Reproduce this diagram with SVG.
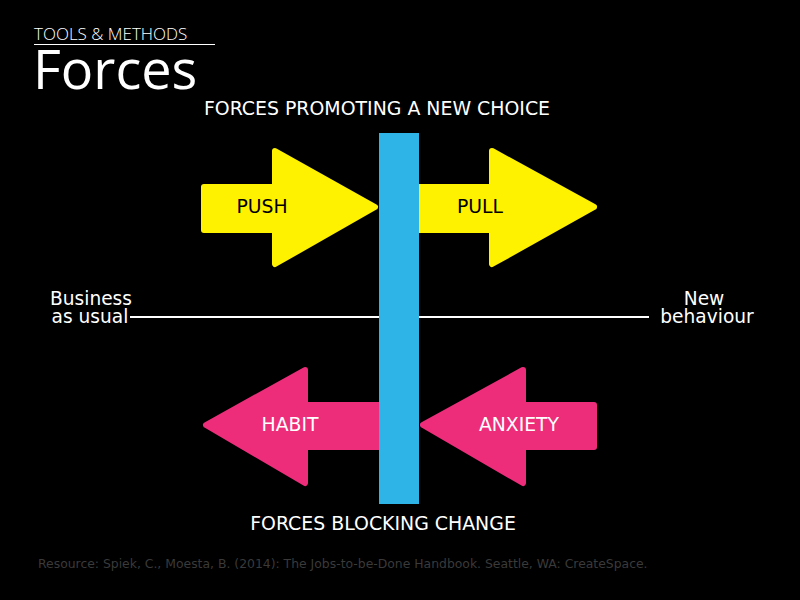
<svg xmlns="http://www.w3.org/2000/svg" width="800" height="600" viewBox="0 0 800 600">
<style>
.t{font-family:"DejaVu Sans","Liberation Sans",sans-serif;}
.w{fill:#ffffff;}
.lbl{font-size:18.8px;text-anchor:middle;}
.side{font-size:18.6px;text-anchor:middle;}
.yel{fill:#FFF200;stroke:#FFF200;stroke-width:6;stroke-linejoin:round;}
.pink{fill:#EE2D7A;stroke:#EE2D7A;stroke-width:6;stroke-linejoin:round;}
</style>
<rect width="800" height="600" fill="#000"/>
<g id="header">
<text x="34" y="40" font-family="'Open Sans','DejaVu Sans',sans-serif" font-weight="300" font-size="17" fill="#fff">TOOLS &amp; METHODS</text>
<line x1="34" y1="44.5" x2="215" y2="44.5" stroke="#fff" stroke-width="1"/>
<text x="33" y="89" font-family="'Open Sans','DejaVu Sans',sans-serif" font-size="54" fill="#fff">Forces</text>
</g>
<g id="connectors">
<line x1="130" y1="317" x2="649" y2="317" stroke="#fff" stroke-width="2"/>
</g>
<g id="push">
<polygon class="yel" points="204,187 275,187 275,151 375,207 275,264 275,230 204,230"/>
<text class="t lbl" x="262" y="213" fill="#000">PUSH</text>
</g>
<g id="pull">
<polygon class="yel" points="419,187 492,187 492,151 594,207 492,264 492,230 419,230"/>
<text class="t lbl" x="480" y="213" fill="#000">PULL</text>
</g>
<g id="habit">
<polygon class="pink" points="379,405 305,405 305,370 206,425 305,483 305,447 379,447"/>
<text class="t lbl w" x="290" y="431">HABIT</text>
</g>
<g id="anxiety">
<polygon class="pink" points="594,405 523,405 523,370 423,425 523,483 523,447 594,447"/>
<text class="t lbl w" x="519" y="431">ANXIETY</text>
</g>
<g id="bar">
<rect x="379" y="133" width="40" height="371" fill="#2EB4E6"/>
</g>
<g id="top-label">
<text class="t w" x="377" y="115" font-size="18.9" text-anchor="middle">FORCES PROMOTING A NEW CHOICE</text>
</g>
<g id="bottom-label">
<text class="t w" x="383" y="530" font-size="18.9" text-anchor="middle">FORCES BLOCKING CHANGE</text>
</g>
<g id="business">
<text class="t side w" x="91" y="305">Business</text>
<text class="t side w" x="90" y="323">as usual</text>
</g>
<g id="new">
<text class="t side w" x="704" y="305">New</text>
<text class="t side w" x="707" y="323">behaviour</text>
</g>
<g id="footer">
<text class="t" x="38" y="568" font-size="12.4" fill="#3a3a3a">Resource: Spiek, C., Moesta, B. (2014): The Jobs-to-be-Done Handbook. Seattle, WA: CreateSpace.</text>
</g>
</svg>
